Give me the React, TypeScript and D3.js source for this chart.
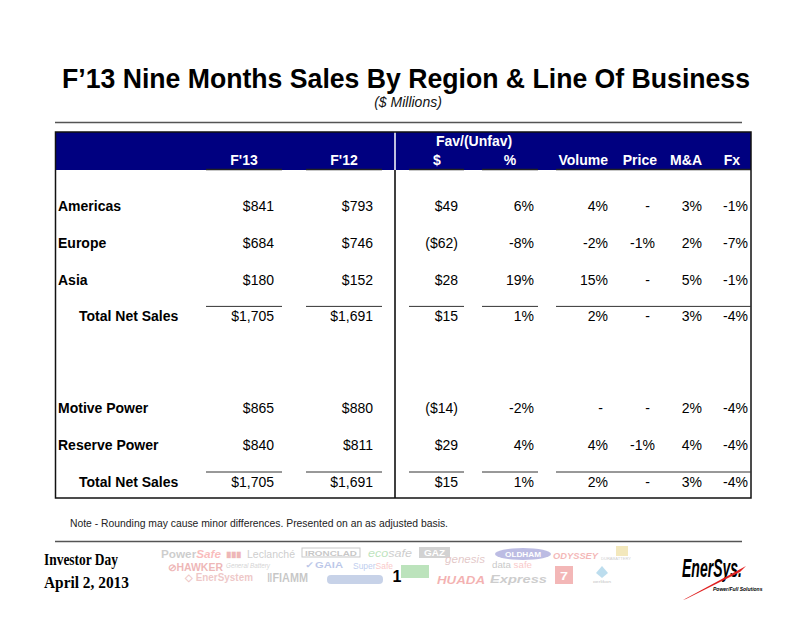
import React from "react";
import * as d3 from "d3";

// ---------- data ----------
const regionLabels = ["Americas", "Europe", "Asia"];
const regionF13 = [841, 684, 180];
const regionF12 = [793, 746, 152];
const regionFavDollar = [49, -62, 28];
const regionFavPct = [6, -8, 19];
const regionVolume = [4, -2, 15];
const regionPrice: (number | null)[] = [null, -1, null];
const regionMA = [3, 2, 5];
const regionFx = [-1, -7, -1];
const regionTotal: (number | null)[] = [1705, 1691, 15, 1, 2, null, 3, -4];

const lobLabels = ["Motive Power", "Reserve Power"];
const lobF13 = [865, 840];
const lobF12 = [880, 811];
const lobFavDollar = [-14, 29];
const lobFavPct = [-2, 4];
const lobVolume: (number | null)[] = [null, 4];
const lobPrice: (number | null)[] = [null, -1];
const lobMA = [2, 4];
const lobFx = [-4, -4];
const lobTotal: (number | null)[] = [1705, 1691, 15, 1, 2, null, 3, -4];

const totalLabel = "Total Net Sales";
const columnHeaders = ["F'13", "F'12", "$", "%", "Volume", "Price", "M&A", "Fx"];
const groupHeader = "Fav/(Unfav)";
const title = "F\u201913 Nine Months Sales By Region & Line Of Business";
const subtitle = "($ Millions)";
const note = "Note - Rounding may cause minor differences.  Presented on an as adjusted basis.";

// ---------- formatting ----------
const fmtComma = d3.format(",");
const fmtDollar = (v: number | null) =>
  v == null ? "-" : v < 0 ? `($${fmtComma(-v)})` : `$${fmtComma(v)}`;
const fmtPct = (v: number | null) => (v == null ? "-" : `${v}%`);
const colFormats = [fmtDollar, fmtDollar, fmtDollar, fmtPct, fmtPct, fmtPct, fmtPct, fmtPct];

// ---------- layout ----------
const colRight = [274, 373, 458, 534, 608, 655, 702, 748];
const headerX = [244, 344, 437, 510, 608, 657, 702, 740];
const headerAnchor = ["middle", "middle", "middle", "middle", "end", "end", "end", "end"];
const underlineSegs: [number, number][] = [
  [206, 282],
  [306, 382],
  [409, 464],
  [482, 538],
  [556, 751],
];
const rowY = d3.scaleLinear().domain([0, 1]).range([211, 247.8]);
const F = "'Liberation Sans', Arial, Helvetica, sans-serif";

type Row = { label: string; values: (number | null)[]; idx: number; total: boolean };

function buildRows(): Row[] {
  const rows: Row[] = [];
  regionLabels.forEach((l, i) =>
    rows.push({
      label: l,
      values: [regionF13[i], regionF12[i], regionFavDollar[i], regionFavPct[i], regionVolume[i], regionPrice[i], regionMA[i], regionFx[i]],
      idx: i,
      total: false,
    })
  );
  rows.push({ label: totalLabel, values: regionTotal, idx: 3, total: true });
  lobLabels.forEach((l, i) =>
    rows.push({
      label: l,
      values: [lobF13[i], lobF12[i], lobFavDollar[i], lobFavPct[i], lobVolume[i], lobPrice[i], lobMA[i], lobFx[i]],
      idx: 5.5 + i,
      total: false,
    })
  );
  rows.push({ label: totalLabel, values: lobTotal, idx: 7.5, total: true });
  return rows;
}

function L(props: any) {
  const { w, children, ...rest } = props;
  return (
    <text {...rest} textLength={w} lengthAdjust="spacingAndGlyphs">
      {children}
    </text>
  );
}

function Logos() {
  return (
    <g opacity={0.32} fontFamily={F}>
      <L x={161} y={558} fontSize={10} w={60} fill="#666" fontWeight="bold">Power<tspan fill="#e33" fontStyle="italic">Safe</tspan></L>
      <L x={226} y={557} fontSize={8} w={15} fill="#c22" fontWeight="bold">▮▮▮</L>
      <L x={247} y={558} fontSize={10} w={48} fill="#666">Leclanché</L>
      <rect x={302} y={548} width={58} height={9} fill="none" stroke="#555" strokeWidth={1} />
      <L x={305} y={555.5} fontSize={7} w={52} fill="#555" fontWeight="bold">IRONCLAD</L>
      <L x={368} y={557} fontSize={10} w={44} fill="#3a3" fontStyle="italic">eco<tspan fill="#666">safe</tspan></L>
      <rect x={419} y={547} width={31} height={11} fill="#777" />
      <L x={424} y={556} fontSize={9} w={21} fill="#fff" fontWeight="bold">GAZ</L>
      <L x={445} y={563} fontSize={10} w={40} fill="#a55" fontStyle="italic">genesis</L>
      <ellipse cx={523} cy={554} rx={28} ry={6} fill="#33a" />
      <L x={505} y={557} fontSize={7} w={36} fill="#fff" fontWeight="bold">OLDHAM</L>
      <L x={553} y={559} fontSize={9} w={45} fill="#d22" fontWeight="bold" fontStyle="italic">ODYSSEY</L>
      <rect x={616} y={546} width={12} height={10} fill="#db3" />
      <L x={601} y={560} fontSize={3} w={30} fill="#666">DURABATTERY</L>
      <L x={168} y={571} fontSize={10} w={55} fill="#c22" fontWeight="bold">⊘HAWKER</L>
      <L x={226} y={568} fontSize={7} w={44} fill="#777" fontStyle="italic">General Battery</L>
      <L x={305} y={568} fontSize={9} w={38} fill="#35b" fontWeight="bold">✓GAIA</L>
      <L x={353} y={569} fontSize={9} w={40} fill="#36c">Super<tspan fill="#e55">Safe</tspan></L>
      <rect x={401} y={565} width={28} height={13} fill="#3a3" />
      <L x={492} y={568} fontSize={9} w={40} fill="#555">data <tspan fill="#e55">safe</tspan></L>
      <L x={185} y={581} fontSize={10} w={68} fill="#c55" fontWeight="bold">◇ EnerSystem</L>
      <L x={267} y={582} fontSize={12} w={41} fill="#555" fontWeight="bold">‖FIAMM</L>
      <rect x={327} y={575} width={56} height={9} rx={4} fill="#57b" />
      <L x={437} y={584} fontSize={11} w={48} fill="#d11" fontWeight="bold" fontStyle="italic">HUADA</L>
      <L x={490} y={583} fontSize={11} w={57} fill="#666" fontStyle="italic" fontWeight="bold">Express</L>
      <rect x={555} y={566} width={18} height={18} fill="#d22" />
      <L x={560} y={580} fontSize={11} w={8} fill="#fff" fontWeight="bold">7</L>
      <polygon points="602,566 608,573 602,578 596,573" fill="#39c" />
      <L x={593} y={583} fontSize={3.5} w={18} fill="#333">oerlikon</L>
    </g>
  );
}

export default function App() {
  const rows = buildRows();
  return (
    <svg
      width={810}
      height={626}
      viewBox="0 0 810 626"
      style={{ position: "absolute", left: 0, top: 0, display: "block", background: "#fff" }}
      fontFamily={F}
    >
      <rect x={0} y={0} width={810} height={626} fill="#fff" />
      {/* title */}
      <text
        x={406}
        y={88}
        fontSize={28}
        fontWeight="bold"
        textAnchor="middle"
        fontFamily="'Liberation Sans Narrow', 'Arial Narrow', 'Liberation Sans', Arial, sans-serif"
        textLength={688}
        lengthAdjust="spacingAndGlyphs"
        fill="#000"
      >
        {title}
      </text>
      <text x={408} y={107} fontSize={14} fontStyle="italic" textAnchor="middle" fill="#111">
        {subtitle}
      </text>
      <line x1={55} x2={742} y1={122.5} y2={122.5} stroke="#555" strokeWidth={1.5} />

      {/* header */}
      <rect x={55.5} y={132} width={695.5} height={38} fill="#000080" />
      <line x1={395} x2={395} y1={132} y2={170} stroke="#fff" strokeWidth={1.5} />
      <text x={474} y={146} fontSize={14} fontWeight="bold" fill="#fff" textAnchor="middle">
        {groupHeader}
      </text>
      {columnHeaders.map((h, i) => (
        <text key={h} x={headerX[i]} y={165} fontSize={14} fontWeight="bold" fill="#fff" textAnchor={headerAnchor[i] as any}>
          {h}
        </text>
      ))}
      {underlineSegs.map(([a, b], i) => (
        <line key={"hu" + i} x1={a} x2={b} y1={169.5} y2={169.5} stroke="#222" strokeWidth={1.5} />
      ))}

      {/* table body frame */}
      <line x1={395} x2={395} y1={170} y2={498} stroke="#000" strokeWidth={1.5} />
      <rect x={55.5} y={132} width={695.5} height={366} fill="none" stroke="#111" strokeWidth={1.5} />

      {rows.map((r, ri) => {
        const y = rowY(r.idx);
        return (
          <g key={"r" + ri}>
            {r.total &&
              underlineSegs.map(([a, b], i) => (
                <line key={"tu" + i} x1={a} x2={b} y1={y - 15} y2={y - 15} stroke="#333" strokeWidth={1} />
              ))}
            <text x={r.total ? 79 : 58} y={y} fontSize={14} fontWeight="bold" fill="#000">
              {r.label}
            </text>
            {r.values.map((v, ci) => (
              <text
                key={"c" + ci}
                x={v == null ? colRight[ci] - 5 : colRight[ci]}
                y={y}
                fontSize={14}
                textAnchor="end"
                fill="#000"
              >
                {colFormats[ci](v)}
              </text>
            ))}
          </g>
        );
      })}

      {/* note */}
      <text x={70} y={527} fontSize={11} fill="#222" textLength={378} lengthAdjust="spacingAndGlyphs">
        {note}
      </text>
      <line x1={55} x2={742} y1={541.5} y2={541.5} stroke="#555" strokeWidth={1.5} />

      {/* footer */}
      <text x={44} y={565} fontSize={17} fontWeight="bold" fontFamily="'Liberation Serif', 'Times New Roman', serif" textLength={74} lengthAdjust="spacingAndGlyphs">
        Investor Day
      </text>
      <text x={44} y={588} fontSize={17} fontWeight="bold" fontFamily="'Liberation Serif', 'Times New Roman', serif" textLength={85} lengthAdjust="spacingAndGlyphs">
        April 2, 2013
      </text>
      <Logos />
      <text x={397} y={582} fontSize={16} fontWeight="bold" textAnchor="middle" fill="#000" fontFamily={F}>
        1
      </text>

      {/* EnerSys logo */}
      <g>
        <text
          x={682}
          y={577}
          fontSize={26}
          fontWeight="bold"
          fontStyle="italic"
          fill="#000"
          textLength={60}
          lengthAdjust="spacingAndGlyphs"
          fontFamily="'Liberation Sans Narrow', 'Liberation Sans', Arial, sans-serif"
        >
          EnerSys.
        </text>
        <path d="M683,600 L746,566 L740,572 L686,599 Z" fill="#e02020" />
        <text x={713} y={591} fontSize={5} fontStyle="italic" fontWeight="bold" fill="#000">
          Power/Full Solutions
        </text>
      </g>
    </svg>
  );
}
